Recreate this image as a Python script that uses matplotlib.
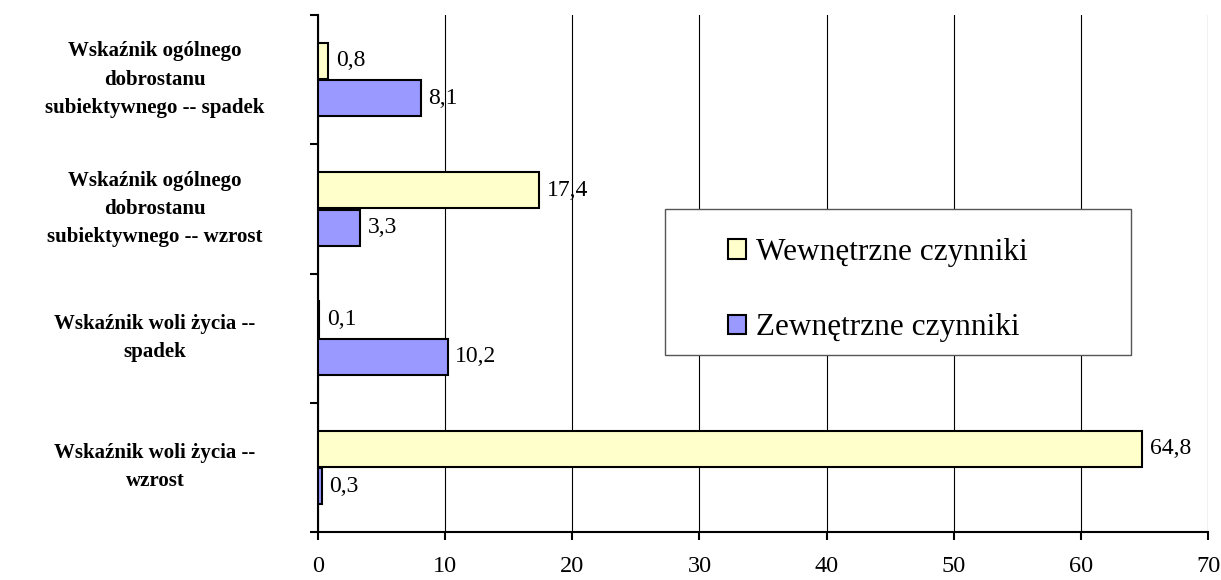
import matplotlib
matplotlib.use("Agg")
import numpy as np
from matplotlib import pyplot as plt
from matplotlib.patches import Rectangle
from matplotlib.transforms import blended_transform_factory

categories = ["Wskaźnik ogólnego\ndobrostanu\nsubiektywnego -- spadek",
              "Wskaźnik ogólnego\ndobrostanu\nsubiektywnego -- wzrost",
              "Wskaźnik woli życia --\nspadek",
              "Wskaźnik woli życia --\nwzrost"]
wewnetrzne = [0.8, 17.4, 0.1, 64.8]
zewnetrzne = [8.1, 3.3, 10.2, 0.3]
series_names = ["Wewnętrzne czynniki", "Zewnętrzne czynniki"]
xticks = [0, 10, 20, 30, 40, 50, 60, 70]

plt.rcParams['font.family'] = ['Liberation Serif', 'DejaVu Serif']

fig = plt.figure(figsize=(12.21, 5.8), dpi=100)
ax = fig.add_axes([318 / 1221, 48 / 580, 890 / 1221, 517 / 580])

y = np.arange(len(categories))
h = 0.28
b1 = ax.barh(y - 0.145, wewnetrzne, height=h, color='#FFFFCC', edgecolor='black',
             linewidth=1.5, label=series_names[0], zorder=3)
b2 = ax.barh(y + 0.145, zewnetrzne, height=h, color='#9999FF', edgecolor='black',
             linewidth=1.5, label=series_names[1], zorder=3)

for bars, vals in ((b1, wewnetrzne), (b2, zewnetrzne)):
    for bar, v in zip(bars, vals):
        ax.text(v + 0.6, bar.get_y() + bar.get_height() / 2,
                f"{v:.1f}".replace('.', ','), va='center', ha='left', fontsize=17)

ax.set_xlim(0, 70)
ax.set_ylim(3.5, -0.5)
ax.set_xticks(xticks)
ax.set_xticklabels([str(t) for t in xticks], fontsize=17.5)
ax.set_yticks(np.arange(-0.5, 4.0, 1.0))
ax.set_yticklabels([])
ax.tick_params(axis='both', direction='out', length=6, width=1.5)
ax.tick_params(axis='x', pad=11)
ax.xaxis.grid(True, color='black', linewidth=0.8, zorder=0)
ax.set_axisbelow(True)
for s in ('top', 'right'):
    ax.spines[s].set_visible(False)
for s in ('left', 'bottom'):
    ax.spines[s].set_linewidth(1.5)

trans = blended_transform_factory(fig.transFigure, ax.transData)
for i, c in enumerate(categories):
    ax.text(155 / 1221, i, c, transform=trans, ha='center', va='center',
            fontsize=15, fontweight='bold', linespacing=1.55)

# legend box
fig.patches.append(Rectangle((665 / 1221, (580 - 355) / 580), 466 / 1221, 146 / 580,
                             transform=fig.transFigure, facecolor='white',
                             edgecolor='#555555', linewidth=1.0, zorder=5))
leg = fig.legend(loc='upper left', bbox_to_anchor=(712 / 1221, (580 - 222) / 580),
                 frameon=False, fontsize=22.5, handlelength=0.6, handleheight=0.6,
                 handletextpad=0.3, labelspacing=1.5, borderpad=0)
leg.set_zorder(6)

fig.savefig("out.png", dpi=100)
